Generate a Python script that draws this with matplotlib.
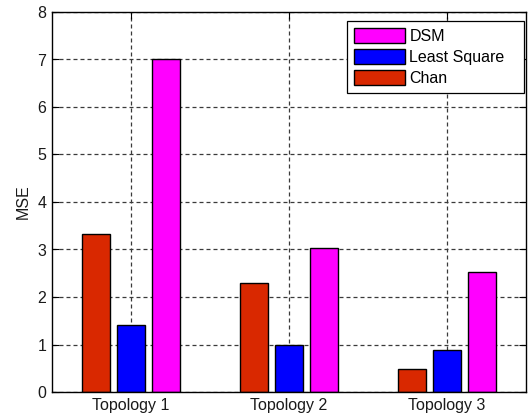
import matplotlib
matplotlib.use("Agg")
import matplotlib.pyplot as plt
import numpy as np

plt.rcParams['font.family'] = ['Liberation Sans', 'DejaVu Sans']

topologies = ["Topology 1", "Topology 2", "Topology 3"]
chan = [3.33, 2.29, 0.48]
least_square = [1.41, 1.0, 0.88]
dsm = [7.0, 3.03, 2.52]

colors = {"Chan": "#D92800", "Least Square": "#0000FF", "DSM": "#FF00FF"}
fs = 11.5

fig = plt.figure(figsize=(5.29, 4.19), dpi=100)
ax = fig.add_axes([52 / 529, 1 - 392 / 419, (526 - 52) / 529, (392 - 12) / 419])

x = np.arange(1, len(topologies) + 1)
offset = 0.222
width = 0.18
b_chan = ax.bar(x - offset, chan, width, color=colors["Chan"], edgecolor="black", linewidth=1.0, zorder=3)
b_ls = ax.bar(x, least_square, width, color=colors["Least Square"], edgecolor="black", linewidth=1.0, zorder=3)
b_dsm = ax.bar(x + offset, dsm, width, color=colors["DSM"], edgecolor="black", linewidth=1.0, zorder=3)

ax.set_xlim(0.5, 3.5)
ax.set_ylim(0, 8)
ax.set_xticks(x)
ax.set_xticklabels(topologies)
ax.set_yticks(range(0, 9))
ax.set_ylabel("MSE", fontsize=fs, color="#1a1a1a", labelpad=5)

ax.grid(True, linestyle=(0, (3.2, 2.4)), color="#3a3a3a", linewidth=0.9, zorder=0)
ax.set_axisbelow(True)
ax.tick_params(direction="in", length=5, top=True, right=True, labelsize=fs,
               colors="black", width=0.8, pad=4)
for lbl in ax.get_xticklabels() + ax.get_yticklabels():
    lbl.set_color("#1a1a1a")
for s in ax.spines.values():
    s.set_linewidth(1.0)
    s.set_zorder(4)

# legend box spans a fixed width in the upper right corner
lx0, lx1, ly0, ly1 = 347, 524, 94, 21
leg_box = ((lx0 - 52) / 474, (392 - ly0) / 380, (lx1 - lx0) / 474, (ly0 - ly1) / 380)
leg = ax.legend([b_dsm, b_ls, b_chan], ["DSM", "Least Square", "Chan"],
                loc="upper left", bbox_to_anchor=leg_box, mode="expand",
                fontsize=fs, frameon=True, fancybox=False, framealpha=1,
                edgecolor="black", borderpad=0.45, handlelength=3.2, handleheight=1.05,
                handletextpad=0.25, labelspacing=0.33, borderaxespad=0)
leg.get_frame().set_linewidth(0.9)
leg.set_zorder(5)

fig.savefig("out.png", dpi=100)
